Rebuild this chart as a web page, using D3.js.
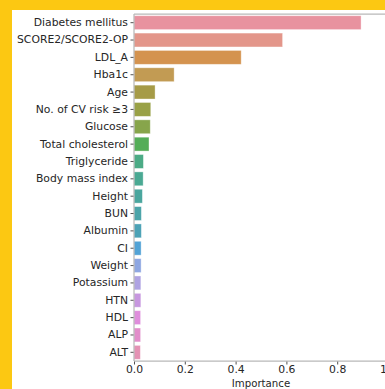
<!DOCTYPE html>
<html>
<head>
<meta charset="utf-8">
<script src="https://cdn.jsdelivr.net/npm/d3@7"></script>
<style>
  html, body { margin: 0; padding: 0; background: #fcc812; }
  svg { display: block; }
</style>
</head>
<body>
<svg id="chart" width="385" height="389"></svg>
<script>
// Feature importances, sorted from largest to smallest
const features = [
  "Diabetes mellitus", "SCORE2/SCORE2-OP", "LDL_A", "Hba1c", "Age",
  "No. of CV risk \u22653", "Glucose", "Total cholesterol", "Triglyceride",
  "Body mass index", "Height", "BUN", "Albumin", "CI", "Weight",
  "Potassium", "HTN", "HDL", "ALP", "ALT"
];
const importance = [
  0.894, 0.585, 0.422, 0.158, 0.083,
  0.066, 0.064, 0.059, 0.037,
  0.036, 0.033, 0.029, 0.029, 0.028, 0.028,
  0.027, 0.027, 0.026, 0.026, 0.025
];
const barColors = [
  "#e8929f", "#e3968a", "#d4934f", "#c29b53", "#a69b47",
  "#99a146", "#87a54b", "#54ad58", "#4cab86", "#4aa993",
  "#4aa69e", "#4ba4a9", "#4ca2b6", "#52a3d6", "#8ea7e2",
  "#afa3e2", "#c797df", "#df8ddc", "#e28dca", "#e492b4"
];
const xTicks = [0, 0.2, 0.4, 0.6, 0.8, 1.0];

const svg = d3.select("#chart");

// white figure area inside the frame
svg.append("rect")
  .attr("x", 12).attr("y", 10)
  .attr("width", 385 - 12).attr("height", 389 - 10)
  .attr("fill", "#ffffff");

const plot = { left: 134, right: 388, top: 14, bottom: 361 };

const x = d3.scaleLinear().domain([0, 1]).range([plot.left, plot.right]);
const y = d3.scaleBand().domain(features).range([plot.top, plot.bottom]).paddingInner(0.2).paddingOuter(0.1);

const textColor = "#262626";
const spineColor = "#b8b8b8";

// bars
svg.append("g").selectAll("rect")
  .data(features)
  .join("rect")
  .attr("x", x(0))
  .attr("y", d => y(d))
  .attr("width", (d, i) => x(importance[i]) - x(0))
  .attr("height", y.bandwidth())
  .attr("fill", (d, i) => barColors[i])
  .attr("stroke", "#ffffff")
  .attr("stroke-opacity", 0.45)
  .attr("stroke-width", 0.8);

// y axis
const yAxis = svg.append("g")
  .attr("transform", `translate(${plot.left},0)`)
  .call(d3.axisLeft(y).tickSize(3.5).tickPadding(2.5));
yAxis.select(".domain").remove();
yAxis.selectAll(".tick line").attr("stroke", textColor).attr("stroke-width", 0.8);
yAxis.selectAll(".tick text")
  .attr("fill", textColor)
  .style("font-family", "DejaVu Sans, sans-serif")
  .style("font-size", "10.8px");

// x axis
const xAxis = svg.append("g")
  .attr("transform", `translate(0,${plot.bottom})`)
  .call(d3.axisBottom(x).tickValues(xTicks).tickFormat(d3.format(".1f")).tickSize(3.5).tickPadding(1));
xAxis.select(".domain").remove();
xAxis.selectAll(".tick line").attr("stroke", textColor).attr("stroke-width", 0.8);
xAxis.selectAll(".tick text")
  .attr("fill", textColor)
  .style("font-family", "DejaVu Sans, sans-serif")
  .style("font-size", "10.8px");

// spines
svg.append("line").attr("x1", plot.left).attr("x2", plot.left).attr("y1", plot.top).attr("y2", plot.bottom)
  .attr("stroke", spineColor).attr("stroke-width", 1.25);
svg.append("line").attr("x1", plot.left).attr("x2", plot.right).attr("y1", plot.bottom).attr("y2", plot.bottom)
  .attr("stroke", spineColor).attr("stroke-width", 1.25);
svg.append("line").attr("x1", plot.left).attr("x2", plot.right).attr("y1", plot.top).attr("y2", plot.top)
  .attr("stroke", spineColor).attr("stroke-width", 1.25);

// axis title
svg.append("text")
  .attr("x", (plot.left + plot.right) / 2)
  .attr("y", 386.5)
  .attr("text-anchor", "middle")
  .attr("fill", textColor)
  .style("font-family", "DejaVu Sans, sans-serif")
  .style("font-size", "10.2px")
  .text("Importance");
</script>
</body>
</html>
